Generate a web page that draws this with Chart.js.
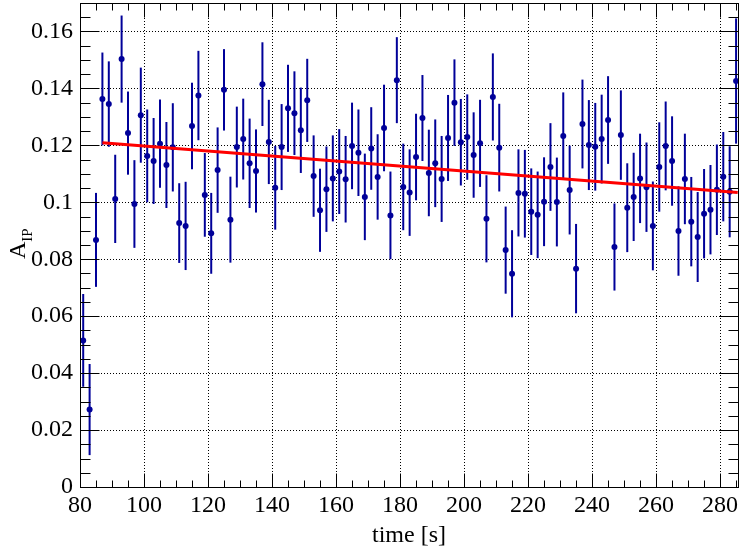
<!DOCTYPE html>
<html>
<head>
<meta charset="utf-8">
<style>
  html, body { margin: 0; padding: 0; background: #ffffff; }
  #wrap { width: 741px; height: 552px; }
</style>
<script src="https://cdn.jsdelivr.net/npm/chart.js@4.4.1/dist/chart.umd.min.js"></script>
</head>
<body>
<div id="wrap"><canvas id="c" width="741" height="552"></canvas></div>
<script>
// ---- data ----
const times = [81,83,85,87,89,91,93,95,97,99,101,103,105,107,109,111,113,115,117,119,121,123,125,127,129,131,133,135,137,139,141,143,145,147,149,151,153,155,157,159,161,163,165,167,169,171,173,175,177,179,181,183,185,187,189,191,193,195,197,199,201,203,205,207,209,211,213,215,217,219,221,223,225,227,229,231,233,235,237,239,241,243,245,247,249,251,253,255,257,259,261,263,265,267,269,271,273,275,277,279,281,283,285];
const asym = [0.0515,0.0272,0.0868,0.1363,0.1345,0.1012,0.1503,0.1243,0.0994,0.1306,0.1163,0.1145,0.1206,0.1131,0.1193,0.0927,0.0917,0.1268,0.1375,0.1026,0.0891,0.1113,0.1395,0.0939,0.1194,0.1222,0.1137,0.1110,0.1415,0.1212,0.1051,0.1194,0.1330,0.1313,0.1253,0.1358,0.1092,0.0972,0.1046,0.1084,0.1108,0.1081,0.1198,0.1174,0.1019,0.1189,0.1089,0.1261,0.0954,0.1429,0.1054,0.1034,0.1159,0.1296,0.1103,0.1137,0.1082,0.1226,0.1350,0.1211,0.1229,0.1166,0.1207,0.0942,0.1370,0.1192,0.0832,0.0749,0.1033,0.1030,0.0967,0.0956,0.1002,0.1124,0.1001,0.1233,0.1043,0.0767,0.1275,0.1201,0.1195,0.1222,0.1289,0.0843,0.1236,0.0981,0.1019,0.1084,0.1053,0.0917,0.1124,0.1198,0.1145,0.0899,0.1082,0.0932,0.0878,0.0960,0.0974,0.1044,0.1090,0.1037,0.1426];
const asymErr = [0.0163,0.0160,0.0165,0.0163,0.0150,0.0155,0.0153,0.0146,0.0154,0.0167,0.0163,0.0151,0.0155,0.0151,0.0155,0.0140,0.0155,0.0152,0.0157,0.0147,0.0142,0.0150,0.0143,0.0151,0.0142,0.0142,0.0157,0.0146,0.0147,0.0148,0.0147,0.0151,0.0153,0.0147,0.0150,0.0146,0.0143,0.0146,0.0150,0.0151,0.0149,0.0152,0.0152,0.0152,0.0152,0.0145,0.0150,0.0152,0.0154,0.0151,0.0152,0.0152,0.0152,0.0151,0.0152,0.0154,0.0151,0.0151,0.0152,0.0152,0.0150,0.0150,0.0153,0.0153,0.0153,0.0154,0.0153,0.0153,0.0153,0.0154,0.0152,0.0152,0.0156,0.0154,0.0156,0.0153,0.0156,0.0157,0.0156,0.0158,0.0154,0.0156,0.0154,0.0153,0.0157,0.0156,0.0155,0.0157,0.0157,0.0156,0.0157,0.0156,0.0157,0.0157,0.0159,0.0157,0.0158,0.0157,0.0157,0.0159,0.0157,0.0160,0.0220];
const fitTimes = [87, 285.5];
const fitValues = [0.1209, 0.1034];
const xTicks = [80,100,120,140,160,180,200,220,240,260,280];
const yTicks = [0,0.02,0.04,0.06,0.08,0.1,0.12,0.14,0.16];
const xTitle = 'time [s]';
const yTitleMain = 'A';
const yTitleSub = 'IP';

// ---- style ----
const FONT = '"Liberation Serif", "Times New Roman", serif';
const NAVY = '#000099';
const X_MIN = 80, X_MAX = 285.6, Y_MIN = 0, Y_MAX = 0.17;
const X_MINOR = 5, Y_MINOR = 0.005;

const framePlugin = {
  id: 'frame',
  beforeDatasetsDraw(chart) {
    const {ctx, chartArea: a, scales: {x, y}} = chart;
    ctx.save();
    // dotted grid
    ctx.strokeStyle = '#000';
    ctx.lineWidth = 1;
    ctx.setLineDash([1, 2]);
    xTicks.forEach(v => {
      if (v <= X_MIN) return;
      const px = Math.round(x.getPixelForValue(v)) + 0.5;
      ctx.beginPath(); ctx.moveTo(px, a.top); ctx.lineTo(px, a.bottom); ctx.stroke();
    });
    yTicks.forEach(v => {
      if (v <= Y_MIN) return;
      const py = Math.round(y.getPixelForValue(v)) + 0.5;
      ctx.beginPath(); ctx.moveTo(a.left, py); ctx.lineTo(a.right, py); ctx.stroke();
    });
    ctx.setLineDash([]);
    // error bars
    ctx.strokeStyle = NAVY;
    ctx.lineWidth = 2;
    times.forEach((t, i) => {
      const px = x.getPixelForValue(t);
      const y1 = y.getPixelForValue(asym[i] - asymErr[i]);
      const y2 = y.getPixelForValue(asym[i] + asymErr[i]);
      ctx.beginPath(); ctx.moveTo(px, Math.min(y1, a.bottom)); ctx.lineTo(px, Math.max(y2, a.top)); ctx.stroke();
    });
    ctx.restore();
  },
  afterDraw(chart) {
    const {ctx, chartArea: a, scales: {x, y}} = chart;
    ctx.save();
    ctx.strokeStyle = '#000';
    ctx.lineWidth = 1;
    const L = a.left + 0.5, R = a.right + 0.5, T = a.top + 0.5, B = a.bottom + 0.5;
    ctx.strokeRect(L, T, R - L, B - T);
    // x ticks (bottom & top)
    for (let k = 0; ; k++) {
      const v = X_MIN + k * X_MINOR;
      if (v > X_MAX + 1e-9) break;
      const major = Math.abs((v - 80) % 20) < 1e-9;
      const len = major ? 14 : 7;
      const px = Math.round(x.getPixelForValue(v)) + 0.5;
      ctx.beginPath();
      ctx.moveTo(px, B); ctx.lineTo(px, B - len);
      ctx.moveTo(px, T); ctx.lineTo(px, T + len);
      ctx.stroke();
    }
    // y ticks (left & right)
    for (let k = 0; ; k++) {
      const v = Y_MIN + k * Y_MINOR;
      if (v > Y_MAX + 1e-9) break;
      const major = k % 4 === 0;
      const len = major ? 19 : 10;
      const py = Math.round(y.getPixelForValue(v)) + 0.5;
      ctx.beginPath();
      ctx.moveTo(L, py); ctx.lineTo(L + len, py);
      ctx.moveTo(R, py); ctx.lineTo(R - len, py);
      ctx.stroke();
    }
    // y title with subscript
    ctx.fillStyle = '#000';
    ctx.translate(25, 259);
    ctx.rotate(-Math.PI / 2);
    ctx.textBaseline = 'alphabetic';
    ctx.textAlign = 'left';
    ctx.font = '24px ' + FONT;
    ctx.fillText(yTitleMain, 0, 0);
    const w = ctx.measureText(yTitleMain).width;
    ctx.font = '15px ' + FONT;
    ctx.fillText(yTitleSub, w, 7);
    ctx.restore();
  }
};

function noPad(s) {
  s.paddingTop = 0; s.paddingBottom = 0; s.paddingLeft = 0; s.paddingRight = 0;
}

new Chart(document.getElementById('c'), {
  type: 'scatter',
  data: {
    datasets: [
      {
        type: 'line',
        data: fitTimes.map((t, i) => ({x: t, y: fitValues[i]})),
        borderColor: '#ff0000',
        borderWidth: 3,
        pointRadius: 0,
        fill: false,
        tension: 0
      },
      {
        data: times.map((t, i) => ({x: t, y: asym[i]})),
        backgroundColor: NAVY,
        borderColor: NAVY,
        borderWidth: 0,
        pointRadius: 3,
        pointHoverRadius: 3
      }
    ]
  },
  options: {
    responsive: false,
    animation: false,
    devicePixelRatio: 1,
    layout: { padding: { top: 3, right: 1, left: 0, bottom: 0 } },
    plugins: { legend: { display: false }, tooltip: { enabled: false } },
    events: [],
    scales: {
      x: {
        type: 'linear',
        min: X_MIN, max: X_MAX,
        afterFit: s => { s.height = 65; noPad(s); },
        afterBuildTicks: s => { s.ticks = xTicks.map(v => ({value: v})); },
        grid: { display: false, drawTicks: false },
        border: { display: false },
        ticks: {
          color: '#000',
          font: { family: FONT, size: 24 },
          padding: 4,
          maxRotation: 0,
          autoSkip: false,
          callback: v => String(v)
        },
        title: {
          display: true,
          text: xTitle,
          color: '#000',
          font: { family: FONT, size: 24 },
          padding: { top: 0, bottom: 2 }
        }
      },
      y: {
        type: 'linear',
        min: Y_MIN, max: Y_MAX,
        afterFit: s => { s.width = 80; noPad(s); },
        afterBuildTicks: s => { s.ticks = yTicks.map(v => ({value: v})); },
        grid: { display: false, drawTicks: false },
        border: { display: false },
        ticks: {
          color: '#000',
          font: { family: FONT, size: 24 },
          padding: 7,
          autoSkip: false,
          callback: v => String(+v.toFixed(3))
        }
      }
    }
  },
  plugins: [framePlugin]
});
</script>
</body>
</html>
